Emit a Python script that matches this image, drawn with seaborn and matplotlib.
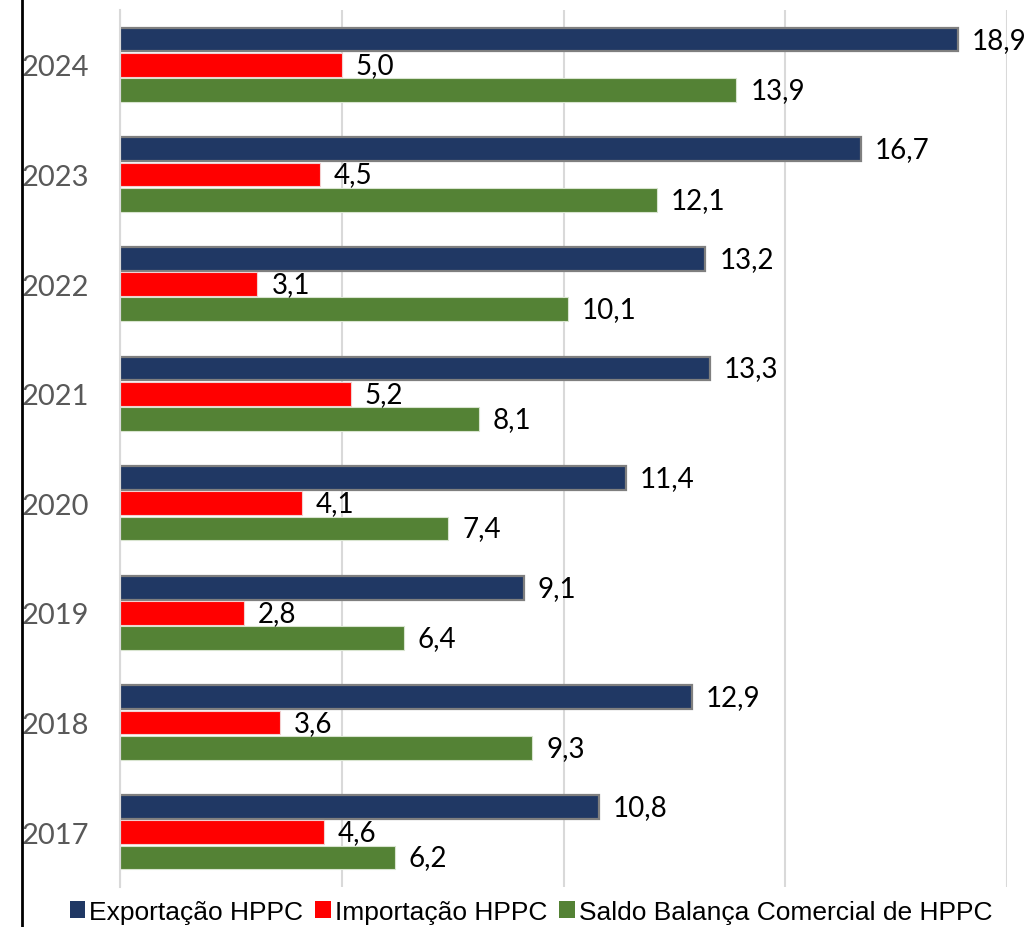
import matplotlib
matplotlib.use("Agg")
import matplotlib.pyplot as plt
from matplotlib.lines import Line2D
from matplotlib.patches import Patch
import seaborn as sns
import pandas as pd
import numpy as np

years = ["2024", "2023", "2022", "2021", "2020", "2019", "2018", "2017"]
series = ["Exportação HPPC", "Importação HPPC", "Saldo Balança Comercial de HPPC"]
exportacao = [18.9, 16.7, 13.2, 13.3, 11.4, 9.1, 12.9, 10.8]
importacao = [5.0, 4.5, 3.1, 5.2, 4.1, 2.8, 3.6, 4.6]
saldo = [13.9, 12.1, 10.1, 8.1, 7.4, 6.4, 9.3, 6.2]
colors = ["#203864", "#FF0000", "#548235"]

rows = []
for name, vals in zip(series, [exportacao, importacao, saldo]):
    for y, v in zip(years, vals):
        rows.append({"Ano": y, "Valor": v, "Série": name})
df = pd.DataFrame(rows)

sns.set_theme(style="white")
plt.rcParams["font.family"] = ["Lato", "DejaVu Sans"]

fig = plt.figure(figsize=(10.28, 9.28), dpi=100)
ax = fig.add_axes([120 / 1028, 1 - 888 / 928, (1007 - 120) / 1028, (888 - 11) / 928])

sns.barplot(data=df, x="Valor", y="Ano", hue="Série", order=years, hue_order=series,
            palette=colors, orient="h", width=0.69, gap=0.06, ax=ax, errorbar=None,
            saturation=1)

edges = ["#7F7F7F", "#F2D0D0", "#D8E4CF"]
lws = [1.6, 0.8, 0.8]
for cont, ec, lw in zip(ax.containers, edges, lws):
    for bar in cont:
        bar.set_edgecolor(ec)
        bar.set_linewidth(lw)
    labels = [f"{b.get_width():.1f}".replace(".", ",") for b in cont]
    ax.bar_label(cont, labels=labels, padding=10, fontsize=20, color="black")

leg = ax.get_legend()
if leg is not None:
    leg.remove()

ax.set_xlim(0, 20)
ax.set_ylim(len(years) - 0.5, -0.5)
ax.set_xticks([0, 5, 10, 15, 20])
ax.set_xticklabels([])
ax.tick_params(axis="x", length=0)
ax.grid(axis="x", color="#D9D9D9", linewidth=1.5)
ax.set_axisbelow(True)
ax.set_xlabel("")
ax.set_ylabel("")

for s in ["top", "right", "bottom"]:
    ax.spines[s].set_visible(False)
ax.spines["left"].set_color("#D9D9D9")
ax.spines["left"].set_linewidth(1.5)

ax.tick_params(axis="y", which="major", length=0, pad=22, labelsize=21, labelcolor="#595959")
ax.set_yticks(np.arange(-0.5, len(years), 1.0), minor=True)
ax.tick_params(axis="y", which="minor", length=9, width=1.5, color="#D9D9D9")

handles = [Patch(facecolor=c, edgecolor="none") for c in colors]
fig.legend(handles, series, loc="lower center", bbox_to_anchor=(531 / 1028, -0.022),
           ncol=3, frameon=False, handlelength=0.6, handleheight=0.6,
           handletextpad=0.15, columnspacing=0.45, labelcolor="black",
           prop={"family": ["Liberation Sans", "DejaVu Sans"], "size": 19})

fig.add_artist(Line2D([22 / 1028, 22 / 1028], [0, 1], color="black", linewidth=2,
                      transform=fig.transFigure))

fig.savefig("out.png", dpi=100)
